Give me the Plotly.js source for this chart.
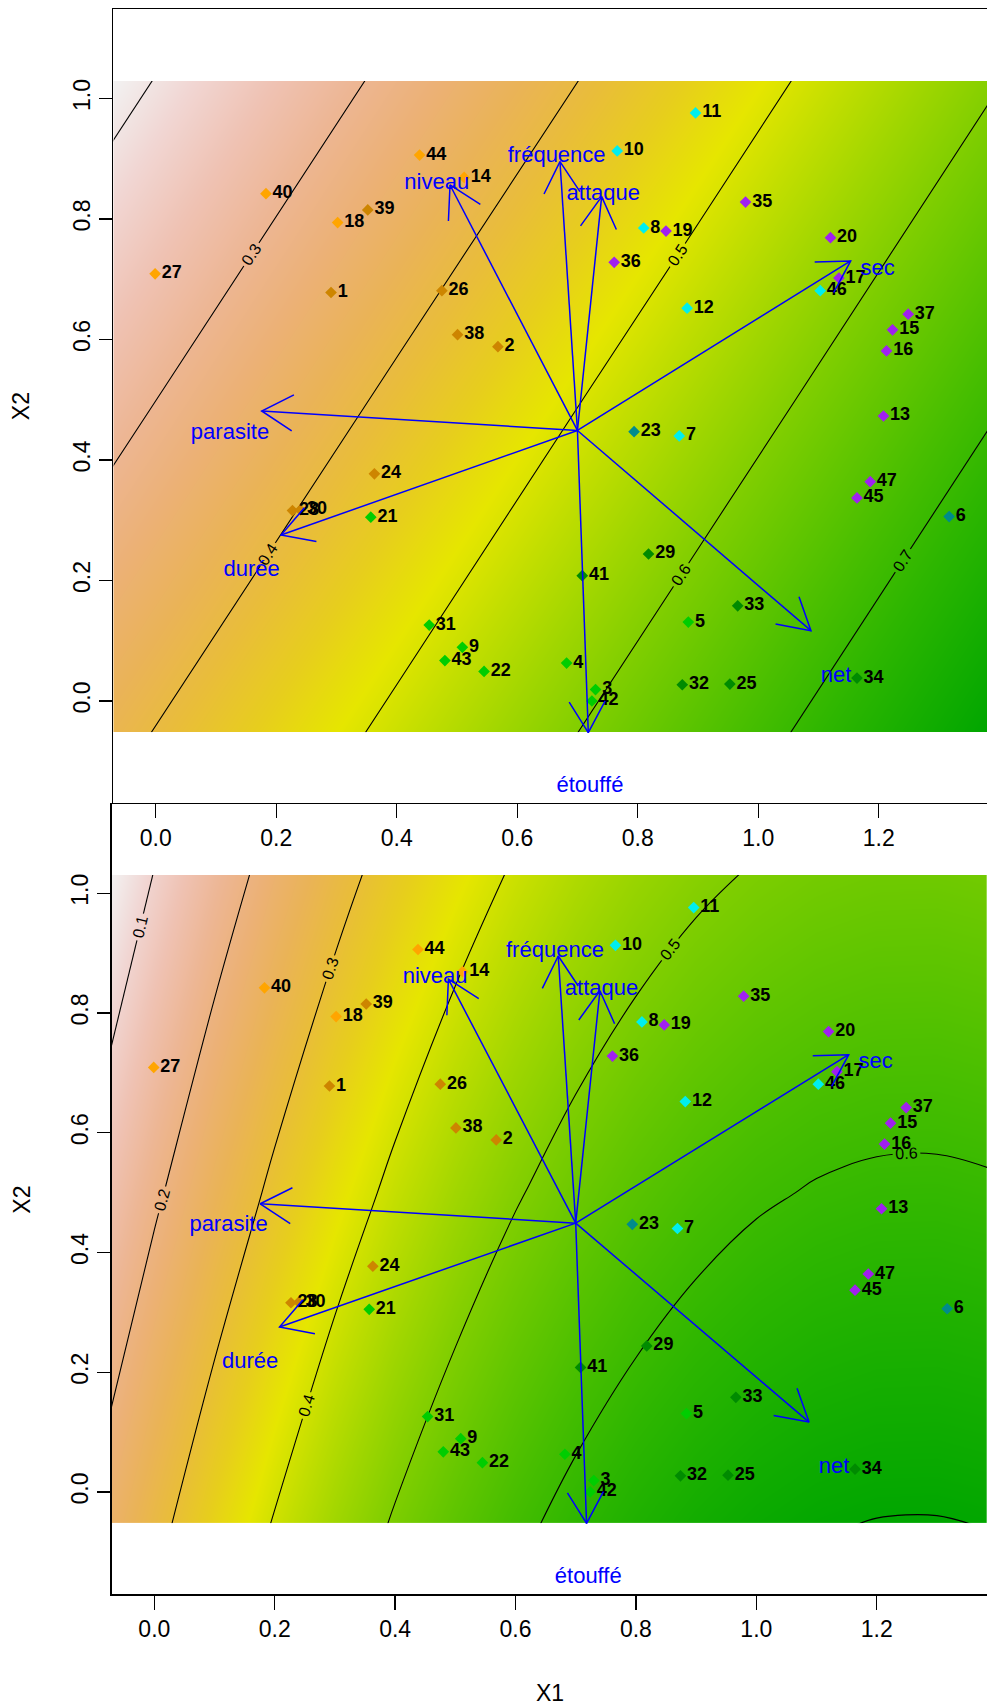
<!DOCTYPE html>
<html>
<head>
<meta charset="utf-8">
<script src="https://cdn.plot.ly/plotly-3.0.1.min.js"></script>
<style>html,body{margin:0;padding:0;background:#fff;}</style>
</head>
<body>
<div id="chart" style="width:987px;height:1708px;"></div>
<script>
// ---------------- data ----------------
const pointIds = [1,2,3,4,5,6,7,8,9,10,11,12,13,14,15,16,17,18,19,20,21,22,23,24,25,26,27,28,29,30,31,32,33,34,35,36,37,38,39,40,41,42,43,44,45,46,47];
const pointX = [0.291,0.568,0.730,0.682,0.884,1.317,0.869,0.810,0.509,0.766,0.896,0.882,1.208,0.512,1.223,1.213,1.134,0.302,0.847,1.120,0.357,0.545,0.794,0.363,0.953,0.475,-0.001,0.227,0.818,0.240,0.454,0.874,0.966,1.164,0.979,0.761,1.249,0.501,0.352,0.183,0.708,0.724,0.480,0.438,1.164,1.103,1.186];
const pointY = [0.678,0.588,0.019,0.063,0.131,0.306,0.440,0.785,0.089,0.913,0.976,0.652,0.473,0.869,0.616,0.581,0.702,0.794,0.780,0.769,0.305,0.049,0.447,0.377,0.028,0.681,0.709,0.316,0.244,0.317,0.126,0.027,0.158,0.038,0.828,0.728,0.642,0.608,0.815,0.842,0.208,0.000,0.067,0.906,0.337,0.681,0.364];
const pointGroup = [1,1,6,6,6,4,2,2,6,2,2,2,3,0,3,3,3,0,3,3,6,6,4,1,5,1,0,1,5,1,6,5,5,5,3,3,3,1,1,0,5,6,6,0,3,2,3];
const groupColors = ['#FFA500','#CD8500','#00EEEE','#A020F0','#008B8B','#008B00','#00CD00'];

const varNames  = ['niveau','fréquence','attaque','sec','parasite','durée','net','étouffé'];
const varTipX   = [0.4885, 0.6710, 0.7402, 1.1535, 0.1759, 0.2080, 1.0876, 0.7180];
const varTipY   = [0.8564, 0.8951, 0.8370, 0.7303, 0.4813, 0.2755, 0.1167, -0.0525];
const varLabelX = [0.4664, 0.6655, 0.7429, 1.1983, 0.1233, 0.1593, 1.1291, 0.7208];
const varLabelY = [0.8597, 0.9034, 0.8398, 0.7165, 0.4443, 0.2163, 0.0403, -0.1422];
const arrowOrigin = [0.700, 0.449];

// fitted surface, panel 1
const topGridX = [-0.08, 0.4, 0.9, 1.4];
const topGridY = [-0.06, 0.5, 1.04];
const topGridZ = [
  [0.381, 0.516, 0.658, 0.799],
  [0.277, 0.413, 0.554, 0.696],
  [0.177, 0.313, 0.454, 0.596]
];
// fitted surface, panel 2
const botGridX = [-0.08, 0.0, 0.1, 0.2, 0.3, 0.4, 0.5, 0.6, 0.7, 0.8, 0.9, 1.0, 1.1, 1.2, 1.3, 1.4];
const botGridY = [-0.06, 0.5, 1.04];
const botGridZ = [
  [0.2274, 0.2824, 0.3465, 0.4053, 0.4588, 0.5070, 0.5499, 0.5876, 0.6200, 0.6471, 0.6689, 0.6854, 0.6967, 0.7027, 0.7034, 0.6988],
  [0.1346, 0.1897, 0.2537, 0.3125, 0.3660, 0.4142, 0.4572, 0.4948, 0.5272, 0.5543, 0.5761, 0.5927, 0.6039, 0.6099, 0.6106, 0.6060],
  [0.0451, 0.1002, 0.1642, 0.2230, 0.2765, 0.3247, 0.3677, 0.4053, 0.4377, 0.4648, 0.4866, 0.5032, 0.5144, 0.5204, 0.5211, 0.5165]
];
const topZLim = [0.1816, 0.7921];
const botZLim = [0.053, 0.702];

// colours (terrain palette, low -> high)
const terrain = ['rgb(242,242,242)','rgb(241,214,211)','rgb(239,194,179)','rgb(237,182,148)','rgb(236,177,118)','rgb(234,179,88)','rgb(233,189,58)','rgb(231,206,29)','rgb(230,230,0)','rgb(194,222,0)','rgb(160,214,0)','rgb(128,206,0)','rgb(99,198,0)','rgb(71,190,0)','rgb(45,182,0)','rgb(22,174,0)','rgb(0,166,0)'];
const colorscale = terrain.map((c, i) => [i / (terrain.length - 1), c]);

// ---------------- layout helpers ----------------
const W = 987, H = 1708;
const FONT = 'Liberation Sans, Arial, Helvetica, sans-serif';
const hdom = (a, b) => [a / W, b / W];
const vdom = (top, bot) => [(H - bot) / H, (H - top) / H];
function subDomain(dom, range, band) {
  const f = v => dom[0] + (v - range[0]) / (range[1] - range[0]) * (dom[1] - dom[0]);
  return [f(band[0]), f(band[1])];
}

const panels = [
  {xd: hdom(113.3, 987), xr: [-0.0704, 1.3798], yd: vdom(9.3, 803), yr: [-0.1693, 1.148], band: [-0.052, 1.029],
   gx: topGridX, gy: topGridY, gz: topGridZ, zlim: topZLim, start: 0.2, smooth: 0},
  {xd: hdom(111.7, 987), xr: [-0.0708, 1.3832], yd: vdom(804, 1594.3), yr: [-0.1709, 1.149], band: [-0.0523, 1.0306],
   gx: botGridX, gy: botGridY, gz: botGridZ, zlim: botZLim, start: 0.1, smooth: 1}
];

const layout = {
  width: W, height: H,
  margin: {l: 0, r: 0, t: 0, b: 0},
  paper_bgcolor: 'white',
  plot_bgcolor: 'rgba(0,0,0,0)',
  showlegend: false,
  font: {family: FONT, color: 'black'},
  annotations: [
    {text: 'X2', xref: 'paper', yref: 'paper', x: 21.7 / W, y: (H - 406.5) / H, textangle: -90, showarrow: false, font: {size: 23, family: FONT, color: 'black'}, xanchor: 'center', yanchor: 'middle'},
    {text: 'X2', xref: 'paper', yref: 'paper', x: 21.7 / W, y: (H - 1200) / H, textangle: -90, showarrow: false, font: {size: 23, family: FONT, color: 'black'}, xanchor: 'center', yanchor: 'middle'},
    {text: 'X1', xref: 'paper', yref: 'paper', x: 550 / W, y: (H - 1693) / H, showarrow: false, font: {size: 23, family: FONT, color: 'black'}, xanchor: 'center', yanchor: 'middle'}
  ]
};

const traces = [];

function arrowHeads(ox, oy, tx, ty, sx, sy, len, ang) {
  const dxp = (tx - ox) * sx, dyp = (ty - oy) * sy;
  const L = Math.hypot(dxp, dyp);
  const ux = -dxp / L, uy = -dyp / L;
  const out = [];
  [ang, -ang].forEach(a => {
    const c = Math.cos(a), s = Math.sin(a);
    const rx = ux * c - uy * s, ry = ux * s + uy * c;
    out.push([tx + rx * len / sx, ty + ry * len / sy]);
  });
  return out;
}

panels.forEach((p, i) => {
  const hx = i === 0 ? 'x' : 'x2', hy = i === 0 ? 'y' : 'y2';
  const mx = 'x' + (3 + i), my = 'y' + (3 + i);
  const hxKey = i === 0 ? 'xaxis' : 'xaxis2', hyKey = i === 0 ? 'yaxis' : 'yaxis2';
  layout[hxKey] = {domain: p.xd, range: p.xr, visible: false, anchor: hy, fixedrange: true};
  layout[hyKey] = {domain: subDomain(p.yd, p.yr, p.band), range: p.band, visible: false, anchor: hx, fixedrange: true};
  layout['xaxis' + (3 + i)] = {
    domain: p.xd, range: p.xr, anchor: my,
    showline: true, mirror: true, linecolor: 'black', linewidth: 1.3,
    ticks: 'outside', ticklen: 14, tickwidth: 1.3, tickcolor: 'black',
    tickmode: 'linear', tick0: 0, dtick: 0.2, tickformat: '.1f',
    tickfont: {family: FONT, size: 23, color: 'black'},
    showgrid: false, zeroline: false, fixedrange: true
  };
  layout['yaxis' + (3 + i)] = {
    domain: p.yd, range: p.yr, anchor: mx,
    showline: true, mirror: false, linecolor: 'black', linewidth: 1.3,
    ticks: 'outside', ticklen: 13, tickwidth: 1.3, tickcolor: 'black',
    tickmode: 'linear', tick0: 0, dtick: 0.2, tickformat: '.1f', tickangle: -90,
    tickfont: {family: FONT, size: 23, color: 'black'},
    showgrid: false, zeroline: false, fixedrange: true
  };

  // background surface + contours
  traces.push({
    type: 'contour', x: p.gx, y: p.gy, z: p.gz, xaxis: hx, yaxis: hy,
    colorscale: colorscale, zauto: false, zmin: p.zlim[0], zmax: p.zlim[1],
    autocontour: false,
    contours: {start: p.start, end: 0.7, size: 0.1, coloring: 'heatmap', showlabels: true,
               labelfont: {family: FONT, size: 16, color: 'black'}, labelformat: '.1f'},
    line: {color: 'black', width: 1.1, smoothing: p.smooth},
    showscale: false, hoverinfo: 'skip'
  });

  // observations
  traces.push({
    type: 'scatter', mode: 'markers+text', xaxis: mx, yaxis: my,
    x: pointX, y: pointY, text: pointIds.map(String),
    textposition: 'middle right',
    textfont: {family: FONT, size: 18, color: 'black', weight: 'bold'},
    marker: {symbol: 'diamond', size: 9, color: pointGroup.map(g => groupColors[g]), line: {width: 0}},
    cliponaxis: false, hoverinfo: 'skip'
  });

  // variable arrows
  const sx = W * (p.xd[1] - p.xd[0]) / (p.xr[1] - p.xr[0]);
  const sy = H * (p.yd[1] - p.yd[0]) / (p.yr[1] - p.yr[0]);
  const ax = [], ay = [];
  varTipX.forEach((tx, k) => {
    const ty = varTipY[k];
    const hd = arrowHeads(arrowOrigin[0], arrowOrigin[1], tx, ty, sx, sy, 36, Math.PI / 6);
    ax.push(arrowOrigin[0], tx, null, hd[0][0], tx, hd[1][0], null);
    ay.push(arrowOrigin[1], ty, null, hd[0][1], ty, hd[1][1], null);
  });
  traces.push({
    type: 'scatter', mode: 'lines', xaxis: mx, yaxis: my, x: ax, y: ay,
    line: {color: '#0000FF', width: 1.5}, hoverinfo: 'skip', cliponaxis: false
  });
  traces.push({
    type: 'scatter', mode: 'text', xaxis: mx, yaxis: my,
    x: varLabelX, y: varLabelY, text: varNames, textposition: 'middle center',
    textfont: {family: FONT, size: 22, color: '#0000FF'}, hoverinfo: 'skip', cliponaxis: false
  });
});

Plotly.newPlot('chart', traces, layout, {displayModeBar: false, staticPlot: true});
</script>
</body>
</html>
